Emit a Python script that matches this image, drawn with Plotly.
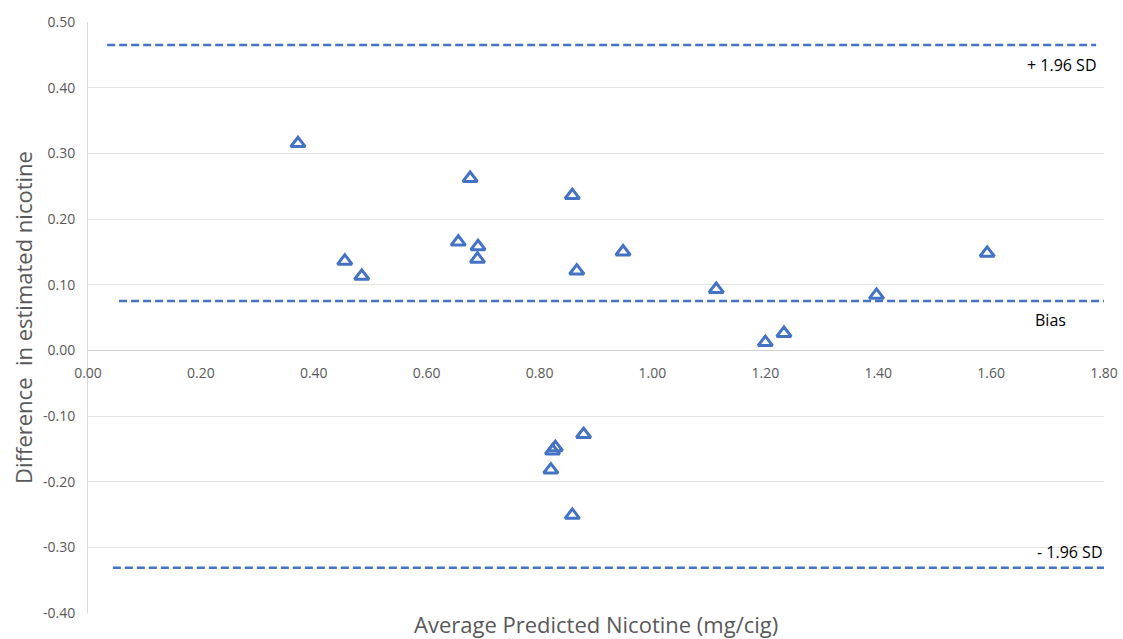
import plotly.graph_objects as go

avg_nicotine = [0.372, 0.455, 0.485, 0.656, 0.677, 0.691, 0.690, 0.858, 0.866, 0.948,
                1.113, 1.200, 1.233, 1.397, 1.593, 0.878, 0.823, 0.828, 0.820, 0.858]
diff_nicotine = [0.315, 0.136, 0.113, 0.165, 0.262, 0.158, 0.139, 0.236, 0.121, 0.150,
                 0.093, 0.012, 0.026, 0.084, 0.148, -0.128, -0.153, -0.148, -0.182, -0.251]

upper_loa = 0.465
bias = 0.075
lower_loa = -0.331
upper_x = [0.034, 1.786]
bias_x = [0.055, 1.814]
lower_x = [0.044, 1.82]

x_ticks = [0.0, 0.2, 0.4, 0.6, 0.8, 1.0, 1.2, 1.4, 1.6, 1.8]
y_ticks = [-0.4, -0.3, -0.2, -0.1, 0.0, 0.1, 0.2, 0.3, 0.4, 0.5]

blue = "#4472C4"
gray = "#595959"
font = "Open Sans"

fig = go.Figure()
for xs, yv in [(upper_x, upper_loa), (bias_x, bias), (lower_x, lower_loa)]:
    fig.add_trace(go.Scatter(x=xs, y=[yv, yv], mode="lines",
                             line=dict(color=blue, width=2.5, dash="8px,4px"),
                             hoverinfo="skip", showlegend=False))

fig.add_trace(go.Scatter(x=avg_nicotine, y=diff_nicotine, mode="markers",
                         marker=dict(symbol="triangle-up-open", size=12.5, color=blue,
                                     line=dict(width=3, color=blue)),
                         showlegend=False, cliponaxis=False))

y0_frac = 0.4 / 0.9
fig.update_layout(
    width=1123, height=639,
    margin=dict(l=88, r=19, t=22, b=26, autoexpand=False),
    paper_bgcolor="white", plot_bgcolor="white",
    font=dict(family=font, color=gray, size=13),
    xaxis=dict(range=[0, 1.8], tickvals=x_ticks, ticktext=[f"{v:.2f}" for v in x_ticks],
               anchor="free", position=y0_frac, showgrid=False, zeroline=False,
               showline=True, linecolor="#D0D0D0", linewidth=1.2, ticks="",
               ticklabelstandoff=10, ticklabeloverflow="allow",
               tickfont=dict(size=14, color=gray, family=font)),
    yaxis=dict(range=[-0.4, 0.5], tickvals=y_ticks, ticktext=[f"{v:.2f}" for v in y_ticks],
               showgrid=True, gridcolor="#E3E3E3", gridwidth=1, zeroline=False,
               showline=True, linecolor="#D9D9D9", linewidth=1, ticks="",
               ticklabelstandoff=9, ticklabeloverflow="allow",
               tickfont=dict(size=14, color=gray, family=font),
               title=dict(text="Difference  in estimated nicotine",
                          font=dict(size=22, color=gray, family=font), standoff=4)),
)

fig.add_annotation(text="Average Predicted Nicotine (mg/cig)", xref="paper", yref="paper",
                   x=0.5, y=-0.0186, yanchor="middle", showarrow=False,
                   font=dict(size=22, color=gray, family=font))
fig.add_annotation(text="+ 1.96 SD", xref="x", yref="y", x=1.791, y=0.434,
                   xanchor="right", yanchor="middle", showarrow=False,
                   font=dict(size=16, color="black", family=font))
fig.add_annotation(text="Bias", xref="x", yref="y", x=1.736, y=0.046,
                   xanchor="right", yanchor="middle", showarrow=False,
                   font=dict(size=16, color="black", family=font))
fig.add_annotation(text="- 1.96 SD", xref="x", yref="y", x=1.795, y=-0.307,
                   xanchor="right", yanchor="middle", xshift=4, showarrow=False,
                   font=dict(size=16, color="black", family=font))

fig.write_html(
    "out.html",
    config={"displayModeBar": False},
    post_script=("document.documentElement.style.overflow='hidden';"
                 "document.body.style.margin='0';document.body.style.overflow='hidden';"),
)
